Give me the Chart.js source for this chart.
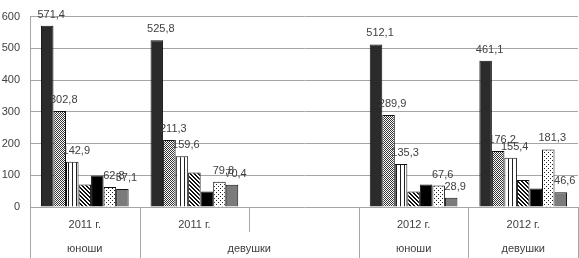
<!DOCTYPE html>
<html>
<head>
<meta charset="utf-8">
<script src="https://cdn.jsdelivr.net/npm/chart.js@4"></script>
<style>
html,body{margin:0;padding:0;background:#fff;}
#wrap{width:579px;height:258px;}
</style>
</head>
<body>
<div id="wrap"><canvas id="chart"></canvas></div>
<script>
// data
const categories = ['2011 г.', '2011 г.', '', '2012 г.', '2012 г.'];
const groups = [
    {label: 'юноши', from: 0, to: 0},
    {label: 'девушки', from: 1, to: 2},
    {label: 'юноши', from: 3, to: 3},
    {label: 'девушки', from: 4, to: 4}
];
const s1 = [571.4, 525.8, null, 512.1, 461.1];
const s2 = [302.8, 211.3, null, 289.9, 176.2];
const s3 = [142.9, 159.6, null, 135.3, 155.4];
const s4 = [71, 109, null, 49, 85];
const s5 = [99, 49, null, 71, 58];
const s6 = [62.8, 79.8, null, 67.6, 181.3];
const s7 = [57.1, 70.4, null, 28.9, 46.6];
const yTicks = [0, 100, 200, 300, 400, 500, 600];
const labelled = [true, true, true, false, false, true, true];

const FONT = "'Liberation Sans', Arial, sans-serif";
const TXT = '#404040';

function makePattern(size, draw){
    const c = document.createElement('canvas');
    c.width = size; c.height = size;
    const g = c.getContext('2d');
    draw(g, size);
    return g.createPattern(c, 'repeat');
}

const ctx = document.getElementById('chart').getContext('2d');

const pCross = makePattern(2, (g)=>{
    g.fillStyle = '#fff'; g.fillRect(0,0,2,2);
    g.fillStyle = '#333'; g.fillRect(0,0,1,1); g.fillRect(1,1,1,1);
});
const pVert = makePattern(4, (g)=>{
    g.fillStyle = '#fff'; g.fillRect(0,0,4,4);
    g.fillStyle = '#222'; g.fillRect(0,0,1,4);
});
const pDiag = makePattern(4, (g)=>{
    g.fillStyle = '#fff'; g.fillRect(0,0,4,4);
    g.fillStyle = '#111';
    for(let i=0;i<4;i++){ g.fillRect(i,i,1,1); g.fillRect((i+1)%4,i,1,1); }
});
const pDots = makePattern(4, (g)=>{
    g.fillStyle = '#fff'; g.fillRect(0,0,4,4);
    g.fillStyle = '#222'; g.fillRect(0,0,1,1); g.fillRect(2,2,1,1);
});

const fills = ['#2b2b2b', pCross, pVert, pDiag, '#000', pDots, '#7b7b7b'];
const series = [s1, s2, s3, s4, s5, s6, s7];

const barLabels = {
    id: 'barLabels',
    afterDatasetsDraw(chart){
        const c = chart.ctx;
        c.save();
        c.font = '11px ' + FONT;
        c.fillStyle = TXT;
        c.textAlign = 'center';
        c.textBaseline = 'alphabetic';
        chart.data.datasets.forEach((ds, i)=>{
            if(!labelled[i]) return;
            chart.getDatasetMeta(i).data.forEach((bar, j)=>{
                const v = ds.data[j];
                if(v == null) return;
                c.fillText(v.toFixed(1).replace('.', ','), bar.x + 4, bar.y - 8);
            });
        });
        c.restore();
    }
};

const axisTable = {
    id: 'axisTable',
    afterDraw(chart){
        const x = chart.scales.x;
        const c = chart.ctx;
        const top = chart.chartArea.bottom;
        const mid = top + 25;
        const bottom = chart.height;
        c.save();
        c.strokeStyle = '#a6a6a6';
        c.lineWidth = 1;
        const groupEdges = new Set();
        groups.forEach(g=>{ groupEdges.add(g.from); groupEdges.add(g.to + 1); });
        for(let i=0;i<=categories.length;i++){
            const px = Math.round(x.getPixelForValue(i - 0.5)) + 0.5;
            c.beginPath();
            c.moveTo(px, top);
            c.lineTo(px, groupEdges.has(i) ? bottom : mid);
            c.stroke();
        }
        c.font = '11px ' + FONT;
        c.fillStyle = TXT;
        c.textAlign = 'center';
        c.textBaseline = 'middle';
        groups.forEach(g=>{
            const a = x.getPixelForValue(g.from - 0.5);
            const b = x.getPixelForValue(g.to + 0.5);
            c.fillText(g.label, (a + b) / 2, 249);
        });
        c.restore();
    }
};

new Chart(ctx, {
    type: 'bar',
    data: {
        labels: categories,
        datasets: series.map((d, i)=>({
            data: d,
            backgroundColor: fills[i],
            borderColor: '#111',
            borderWidth: 1,
            categoryPercentage: 0.8,
            barPercentage: 1.0
        }))
    },
    options: {
        responsive: true,
        maintainAspectRatio: false,
        animation: false,
        layout: { padding: { top: 7, right: 1, left: 0, bottom: 0 } },
        plugins: { legend: { display: false }, tooltip: { enabled: false } },
        scales: {
            x: {
                grid: { display: false, drawTicks: false },
                border: { display: false },
                ticks: { color: TXT, font: { family: FONT, size: 11 }, padding: 11, maxRotation: 0 },
                afterFit: s=>{ s.height = 51; }
            },
            y: {
                min: 0, max: 600,
                afterBuildTicks: s=>{ s.ticks = yTicks.map(v=>({value: v})); },
                grid: { color: '#a6a6a6', drawTicks: false },
                border: { display: true, color: '#a6a6a6' },
                ticks: { color: TXT, font: { family: FONT, size: 11 }, padding: 10 },
                afterFit: s=>{ s.width = 30; }
            }
        }
    },
    plugins: [barLabels, axisTable]
});
</script>
</body>
</html>
